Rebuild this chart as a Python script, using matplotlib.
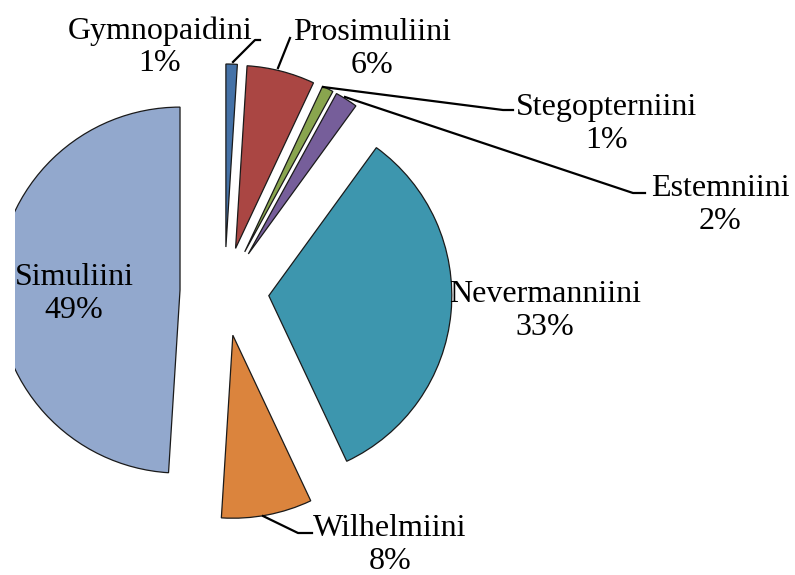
import matplotlib
matplotlib.use('Agg')
import matplotlib.pyplot as plt

# Data
tribes = ['Gymnopaidini', 'Prosimuliini', 'Stegopterniini', 'Estemniini',
          'Nevermanniini', 'Wilhelmiini', 'Simuliini']
shares = [1, 6, 1, 2, 33, 8, 49]
colors = ['#4572A7', '#AA4643', '#89A54E', '#765E9A',
          '#3D96AE', '#DB843D', '#92A8CD']

W, H = 795, 575
fig = plt.figure(figsize=(W / 100, H / 100), dpi=100)
ax = fig.add_axes([15 / W, 0, (W - 15) / W, 1])

radius = 183
wedges, _ = ax.pie(shares, colors=colors, startangle=90, counterclock=False,
                   radius=radius, center=(224.5, H - 291.5),
                   explode=[44.5] * len(shares),
                   wedgeprops=dict(edgecolor='#1a1a1a', linewidth=0.9))
for w in wedges:
    w.set_clip_on(True)   # chart area cuts the big slice on the left
ax.set_xlim(15, W)
ax.set_ylim(0, H)
ax.axis('off')

# label layout (pixel coords, y measured from top)
label_xy = {
    'Gymnopaidini': (160, 47),
    'Prosimuliini': (372, 49),
    'Stegopterniini': (607, 124),
    'Estemniini': (720, 205),
    'Nevermanniini': (545, 311),
    'Wilhelmiini': (390, 545),
    'Simuliini': (74, 294),
}
leaders = {
    'Gymnopaidini': [(233, 62), (255, 40), (260, 40)],
    'Prosimuliini': [(278, 68), (290, 38)],
    'Stegopterniini': [(323, 87), (503, 110), (513, 110)],
    'Estemniini': [(345, 97), (633, 193), (645, 193)],
    'Wilhelmiini': [(263, 516), (298, 533), (312, 533)],
}

for name, pct in zip(tribes, shares):
    x, y = label_xy[name]
    ax.text(x, H - y, f'{name}\n{pct}%', ha='center', va='center',
            fontsize=23, family='Liberation Serif', linespacing=1.15,
            color='black')
    if name in leaders:
        pts = leaders[name]
        ax.plot([p[0] for p in pts], [H - p[1] for p in pts],
                color='black', lw=1.6, clip_on=False)

fig.savefig('out.png', dpi=100, facecolor='white')
